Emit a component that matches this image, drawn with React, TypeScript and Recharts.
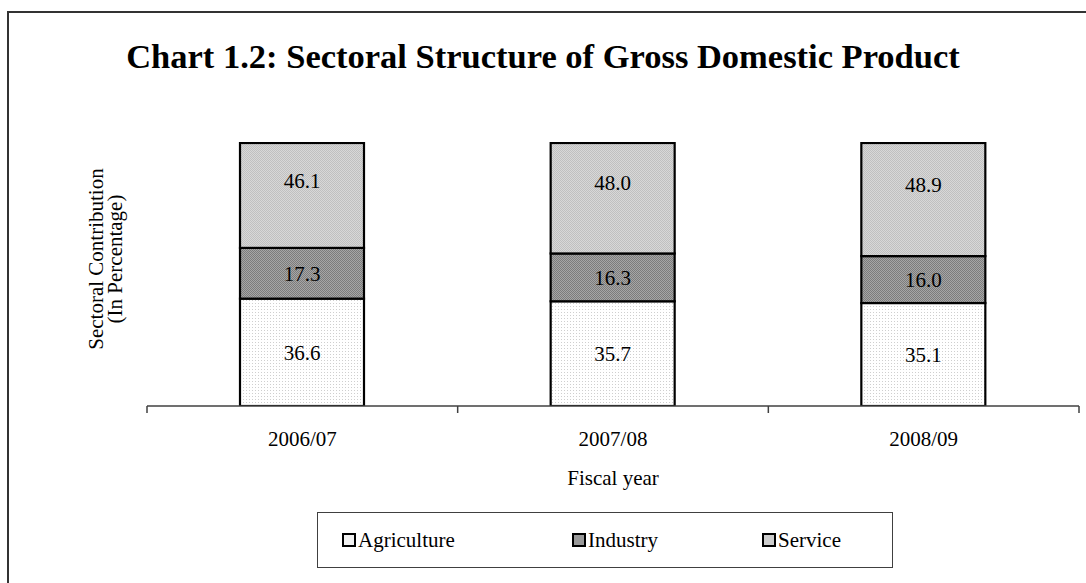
import React from 'react';
import { BarChart, Bar, XAxis, YAxis, LabelList, Legend } from 'recharts';

const years = ['2006/07', '2007/08', '2008/09'];
const agriculture = [36.6, 35.7, 35.1];
const industry = [17.3, 16.3, 16.0];
const service = [46.1, 48.0, 48.9];

const W = 1086;
const H = 583;
const MARGIN = { top: 142, right: 7, left: 147, bottom: 147 };
const X_AXIS_H = 30;
const Y_MAX = 90;
const BAND = (W - MARGIN.left - MARGIN.right) / years.length;
const PX_PER_UNIT = (H - MARGIN.top - MARGIN.bottom - X_AXIS_H) / Y_MAX;
const FONT = '"Liberation Serif", "Times New Roman", serif';

const data = years.map((year, i) => ({
  year,
  Agriculture: agriculture[i],
  Industry: industry[i],
  Service: service[i],
}));

const series = [
  { key: 'Agriculture', fill: 'url(#pAgri)', swatch: '#f1f1f1' },
  { key: 'Industry', fill: 'url(#pInd)', swatch: '#9a9a9a' },
  { key: 'Service', fill: 'url(#pSrv)', swatch: '#cdcdcd' },
];

// excel clips the top segment at the axis max, keep the outline visible
const ClippedBar = (props: any) => {
  const { x, y, width, height, fill } = props;
  const top = Math.max(y, MARGIN.top + 1);
  const h = y + height - top;
  if (h <= 0) return null;
  return <rect x={x} y={top} width={width} height={h} fill={fill} stroke="#000" strokeWidth={2.2} />;
};

// label sits in the middle of the full (unclipped) segment
const SegmentLabel = (props: any) => {
  const { x, y, width, height, value } = props;
  const bottom = y + height;
  const cy = bottom - (Number(value) * PX_PER_UNIT) / 2;
  return (
    <text
      x={x + width / 2}
      y={cy}
      dy="0.35em"
      textAnchor="middle"
      fontFamily={FONT}
      fontSize={21}
      fill="#000"
    >
      {Number(value).toFixed(1)}
    </text>
  );
};

const YearTick = (props: any) => {
  const { x, y, payload, index } = props;
  const half = BAND / 2;
  return (
    <g>
      <line x1={x - half} y1={y} x2={x - half} y2={y + 7} stroke="#404040" strokeWidth={1.5} />
      {index === years.length - 1 && (
        <line x1={x + half} y1={y} x2={x + half} y2={y + 7} stroke="#404040" strokeWidth={1.5} />
      )}
      <text x={x} y={y + 40} textAnchor="middle" fontFamily={FONT} fontSize={21} fill="#000">
        {payload.value}
      </text>
    </g>
  );
};

const LegendBox = () => {
  const lefts = [24, 254, 444];
  return (
    <div
      style={{
        position: 'relative',
        width: 574,
        height: 54,
        border: '1.5px solid #404040',
        background: '#fff',
        fontFamily: FONT,
        fontSize: 21,
      }}
    >
      {series.map((s, i) => (
        <div
          key={s.key}
          style={{
            position: 'absolute',
            left: lefts[i],
            top: 0,
            height: 54,
            display: 'flex',
            alignItems: 'center',
            whiteSpace: 'nowrap',
          }}
        >
          <span
            style={{
              display: 'inline-block',
              width: 10,
              height: 10,
              border: '2px solid #000',
              background: s.swatch,
              marginRight: 2,
            }}
          />
          <span>{s.key}</span>
        </div>
      ))}
    </div>
  );
};

export default function App() {
  return (
    <div
      style={{
        position: 'absolute',
        left: 0,
        top: 0,
        width: W,
        height: H,
        overflow: 'hidden',
        background: '#fff',
        fontFamily: FONT,
      }}
    >
      <div
        style={{
          position: 'absolute',
          left: 7,
          top: 11,
          width: 1200,
          height: 800,
          border: '2px solid #333',
        }}
      />
      <BarChart width={W} height={H} data={data} margin={MARGIN} barSize={124}>
        <defs>
          <pattern id="pAgri" width="3" height="3" patternUnits="userSpaceOnUse">
            <rect width="3" height="3" fill="#ffffff" />
            <rect width="1" height="1" fill="#cfcfcf" />
          </pattern>
          <pattern id="pInd" width="2" height="2" patternUnits="userSpaceOnUse">
            <rect width="2" height="2" fill="#a6a6a6" />
            <rect width="1" height="1" fill="#7c7c7c" />
            <rect x="1" y="1" width="1" height="1" fill="#7c7c7c" />
          </pattern>
          <pattern id="pSrv" width="2" height="2" patternUnits="userSpaceOnUse">
            <rect width="2" height="2" fill="#d8d8d8" />
            <rect width="1" height="1" fill="#c0c0c0" />
            <rect x="1" y="1" width="1" height="1" fill="#c0c0c0" />
          </pattern>
        </defs>
        <XAxis
          dataKey="year"
          interval={0}
          tickSize={0}
          tickMargin={0}
          tickLine={false}
          axisLine={{ stroke: '#404040', strokeWidth: 1.5 }}
          tick={<YearTick />}
          height={X_AXIS_H}
        />
        <YAxis hide domain={[0, Y_MAX]} allowDataOverflow />
        <Legend
          layout="horizontal"
          verticalAlign="middle"
          align="center"
          content={<LegendBox />}
          wrapperStyle={{ position: 'absolute', left: 317, top: 512, width: 576, height: 56 }}
        />
        {series.map((s) => (
          <Bar
            key={s.key}
            dataKey={s.key}
            stackId="a"
            fill={s.fill}
            shape={<ClippedBar />}
            isAnimationActive={false}
          >
            <LabelList dataKey={s.key} content={<SegmentLabel />} />
          </Bar>
        ))}
      </BarChart>
      <svg
        width={W}
        height={H}
        style={{ position: 'absolute', left: 0, top: 0, pointerEvents: 'none' }}
      >
        <text x={543} y={68} textAnchor="middle" fontFamily={FONT} fontWeight="bold" fontSize={34.5} fill="#000">
          Chart 1.2: Sectoral Structure of Gross Domestic Product
        </text>
        <g transform="translate(106, 259) rotate(-90)">
          <text x={0} y={-3} textAnchor="middle" fontFamily={FONT} fontSize={21} fill="#000">
            Sectoral Contribution
          </text>
          <text x={0} y={16} textAnchor="middle" fontFamily={FONT} fontSize={21} fill="#000">
            (In Percentage)
          </text>
        </g>
        <text x={613} y={485} textAnchor="middle" fontFamily={FONT} fontSize={21} fill="#000">
          Fiscal year
        </text>
      </svg>
    </div>
  );
}
